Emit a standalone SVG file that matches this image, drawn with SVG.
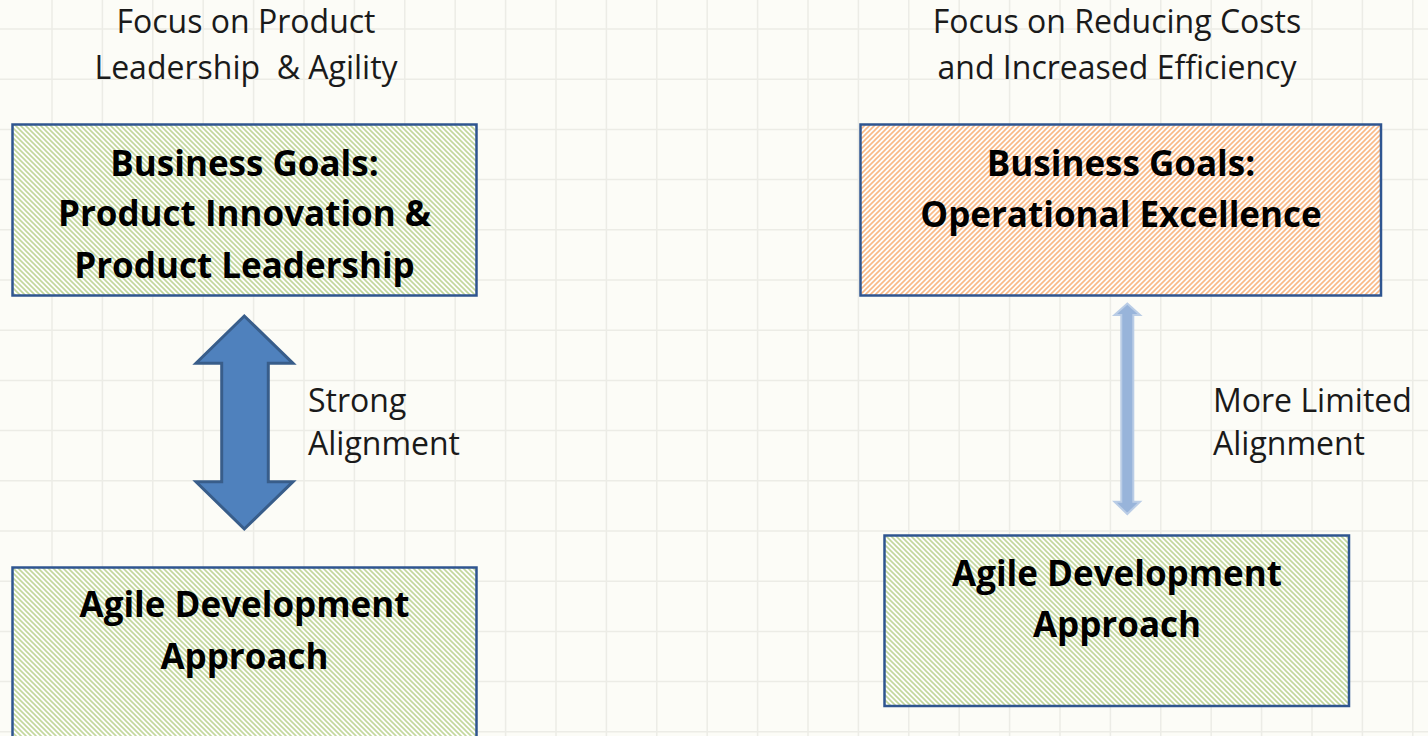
<svg xmlns="http://www.w3.org/2000/svg" width="1428" height="736" viewBox="0 0 1428 736">
<defs>
<style>
.t{font-family:"Open Sans","Liberation Sans",sans-serif;font-size:32px;fill:#1a1a1a}
.b{font-family:"Open Sans","Liberation Sans",sans-serif;font-size:35px;font-weight:bold;fill:#000;text-anchor:middle}
.c{text-anchor:middle}
.box{stroke:#2f5590;stroke-width:2.5}
.grid line{stroke:#ecece6;stroke-width:1.5}
</style>
<pattern id="hg" width="5" height="5" patternUnits="userSpaceOnUse">
<rect width="5" height="5" fill="#ffffff"/>
<path d="M-1,-1 L6,6 M-1,4 L1,6 M4,-1 L6,1" stroke="#c2d79c" stroke-width="1.6"/>
</pattern>
<pattern id="ho" width="5" height="5" patternUnits="userSpaceOnUse">
<rect width="5" height="5" fill="#ffffff"/>
<path d="M-1,6 L6,-1 M-1,1 L1,-1 M4,6 L6,4" stroke="#f9b987" stroke-width="1.6"/>
</pattern>
</defs>
<rect width="1428" height="736" fill="#fcfcf7"/>
<g class="grid">
<line x1="52" y1="0" x2="52" y2="736"/><line x1="102.4" y1="0" x2="102.4" y2="736"/><line x1="152.8" y1="0" x2="152.8" y2="736"/><line x1="203.2" y1="0" x2="203.2" y2="736"/><line x1="253.6" y1="0" x2="253.6" y2="736"/><line x1="304" y1="0" x2="304" y2="736"/><line x1="354.4" y1="0" x2="354.4" y2="736"/><line x1="404.8" y1="0" x2="404.8" y2="736"/><line x1="455.2" y1="0" x2="455.2" y2="736"/><line x1="505.6" y1="0" x2="505.6" y2="736"/><line x1="556" y1="0" x2="556" y2="736"/><line x1="606.4" y1="0" x2="606.4" y2="736"/><line x1="656.8" y1="0" x2="656.8" y2="736"/><line x1="707.2" y1="0" x2="707.2" y2="736"/><line x1="757.6" y1="0" x2="757.6" y2="736"/><line x1="808" y1="0" x2="808" y2="736"/><line x1="858.4" y1="0" x2="858.4" y2="736"/><line x1="908.8" y1="0" x2="908.8" y2="736"/><line x1="959.2" y1="0" x2="959.2" y2="736"/><line x1="1009.6" y1="0" x2="1009.6" y2="736"/><line x1="1060" y1="0" x2="1060" y2="736"/><line x1="1110.4" y1="0" x2="1110.4" y2="736"/><line x1="1160.8" y1="0" x2="1160.8" y2="736"/><line x1="1211.2" y1="0" x2="1211.2" y2="736"/><line x1="1261.6" y1="0" x2="1261.6" y2="736"/><line x1="1312" y1="0" x2="1312" y2="736"/><line x1="1362.4" y1="0" x2="1362.4" y2="736"/><line x1="1412.8" y1="0" x2="1412.8" y2="736"/>
<line x1="0" y1="29" x2="1428" y2="29"/><line x1="0" y1="79.2" x2="1428" y2="79.2"/><line x1="0" y1="129.4" x2="1428" y2="129.4"/><line x1="0" y1="179.6" x2="1428" y2="179.6"/><line x1="0" y1="229.8" x2="1428" y2="229.8"/><line x1="0" y1="280" x2="1428" y2="280"/><line x1="0" y1="330.2" x2="1428" y2="330.2"/><line x1="0" y1="380.4" x2="1428" y2="380.4"/><line x1="0" y1="430.6" x2="1428" y2="430.6"/><line x1="0" y1="480.8" x2="1428" y2="480.8"/><line x1="0" y1="531" x2="1428" y2="531"/><line x1="0" y1="581.2" x2="1428" y2="581.2"/><line x1="0" y1="631.4" x2="1428" y2="631.4"/><line x1="0" y1="681.6" x2="1428" y2="681.6"/><line x1="0" y1="731.8" x2="1428" y2="731.8"/>
</g>
<g id="label-left-top">
<text class="t c" x="246" y="33">Focus on Product</text>
<text class="t c" x="246" y="79" xml:space="preserve">Leadership  &amp; Agility</text>
</g>
<g id="label-right-top">
<text class="t c" x="1117" y="33">Focus on Reducing Costs</text>
<text class="t c" x="1117" y="79">and Increased Efficiency</text>
</g>
<g id="node-left-goals">
<rect class="box" x="12.5" y="124.5" width="464" height="171" fill="url(#hg)"/>
<text class="b" x="244.5" y="176">Business Goals:</text>
<text class="b" x="244.5" y="226">Product Innovation &amp;</text>
<text class="b" x="244.5" y="278">Product Leadership</text>
</g>
<g id="node-right-goals">
<rect class="box" x="860.5" y="124.5" width="520.5" height="171" fill="url(#ho)"/>
<text class="b" x="1121" y="176">Business Goals:</text>
<text class="b" x="1121" y="227">Operational Excellence</text>
</g>
<g id="node-left-agile">
<rect class="box" x="12.5" y="567.5" width="464" height="180" fill="url(#hg)"/>
<text class="b" x="244.5" y="617">Agile Development</text>
<text class="b" x="244.5" y="669">Approach</text>
</g>
<g id="node-right-agile">
<rect class="box" x="884.5" y="535.5" width="464.5" height="170.5" fill="url(#hg)"/>
<text class="b" x="1117" y="586">Agile Development</text>
<text class="b" x="1117" y="637">Approach</text>
</g>
<g id="connectors">
<path d="M244.3,316 L293,363.3 L268.3,363.3 L268.3,481.7 L293,481.7 L244.3,529 L196,481.7 L221.7,481.7 L221.7,363.3 L196,363.3 Z" fill="#4f81bd" stroke="#385d8a" stroke-width="3" stroke-linejoin="miter"/>
<path d="M1127.3,303.5 L1140,315 L1133.3,315 L1133.3,501.7 L1140,501.7 L1127.3,514 L1114.5,501.7 L1121.3,501.7 L1121.3,315 L1114.5,315 Z" fill="#98b4da" stroke="#bacde6" stroke-width="2"/>
</g>
<g id="edge-labels">
<text class="t" x="308" y="412">Strong</text>
<text class="t" x="308" y="455">Alignment</text>
<text class="t" x="1213" y="412">More Limited</text>
<text class="t" x="1213" y="455">Alignment</text>
</g>
</svg>
